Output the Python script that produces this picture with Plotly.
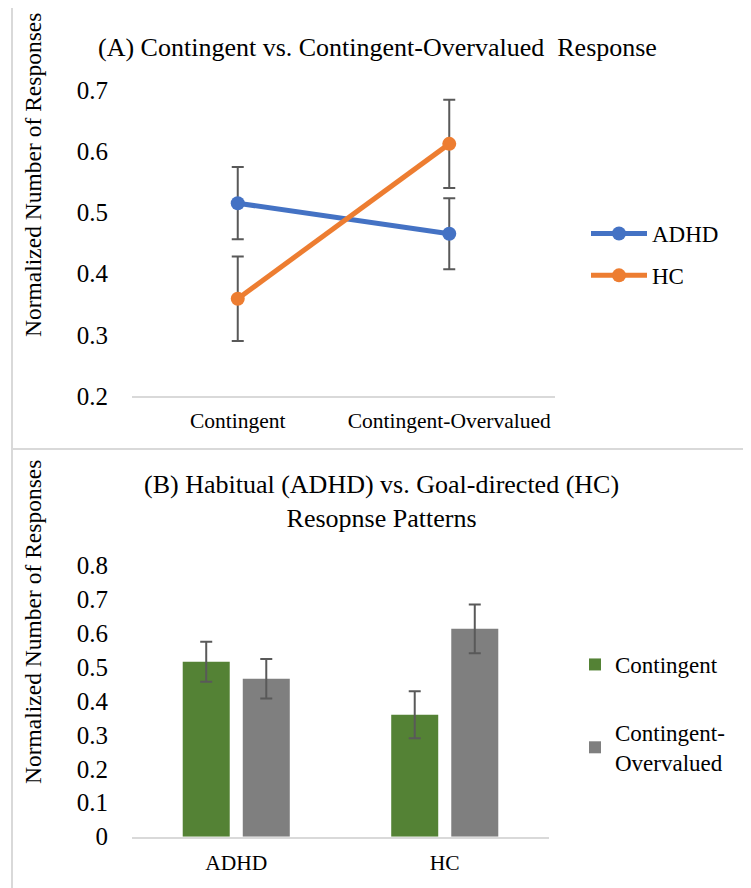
import plotly.graph_objects as go

# ---- data ----
conditions = ["Contingent", "Contingent-Overvalued"]
groups = ["ADHD", "HC"]
adhd_means = [0.515, 0.465]
adhd_err = [0.059, 0.058]
hc_means = [0.359, 0.612]
hc_err = [0.069, 0.072]
contingent_means = [adhd_means[0], hc_means[0]]
contingent_err = [adhd_err[0], hc_err[0]]
overvalued_means = [adhd_means[1], hc_means[1]]
overvalued_err = [adhd_err[1], hc_err[1]]

W, H = 751, 888
OFF = 8  # page body margin
FONT = "Liberation Serif, Times New Roman, serif"
BLUE, ORANGE, GREEN, GRAY = "#4472C4", "#ED7D31", "#548235", "#7F7F7F"
ERRC = "#595959"

def px(x):
    return (x - OFF) / W

def py(y):
    return 1 - (y - OFF) / H

fig = go.Figure()

err_style = dict(type="data", visible=True, color=ERRC, thickness=2, width=6)

fig.add_trace(go.Scatter(
    x=conditions, y=adhd_means, name="ADHD", mode="lines+markers",
    line=dict(color=BLUE, width=5), marker=dict(color=BLUE, size=14),
    error_y=dict(array=adhd_err, **err_style),
    xaxis="x", yaxis="y", legend="legend", legendgroup="a1"))
fig.add_trace(go.Scatter(
    x=conditions, y=hc_means, name="HC", mode="lines+markers",
    line=dict(color=ORANGE, width=5), marker=dict(color=ORANGE, size=14),
    error_y=dict(array=hc_err, **err_style),
    xaxis="x", yaxis="y", legend="legend", legendgroup="a2"))

fig.add_trace(go.Bar(
    x=groups, y=contingent_means, name="Contingent", marker=dict(color=GREEN, line=dict(width=0)),
    error_y=dict(array=contingent_err, **err_style),
    xaxis="x2", yaxis="y2", legend="legend2", legendgroup="b1"))
fig.add_trace(go.Bar(
    x=groups, y=overvalued_means, name="Contingent-<br>Overvalued", marker=dict(color=GRAY, line=dict(width=0)),
    error_y=dict(array=overvalued_err, **err_style),
    xaxis="x2", yaxis="y2", legend="legend2", legendgroup="b2"))

axis_common = dict(showgrid=False, zeroline=False, fixedrange=True, automargin=False)

fig.update_layout(
    template="none",
    width=W, height=H,
    margin=dict(l=0, r=0, t=0, b=0, pad=0, autoexpand=False),
    paper_bgcolor="white", plot_bgcolor="white",
    font=dict(family=FONT, color="#000000"),
    bargap=0.424, bargroupgap=0.217,
    xaxis=dict(domain=[px(132), px(555)], anchor="y", range=[-0.5, 1.5], showline=True,
               linecolor="#D9D9D9", linewidth=2, ticks="outside", ticklen=4,
               tickcolor="rgba(0,0,0,0)", tickfont=dict(size=21.5, family=FONT),
               **axis_common),
    yaxis=dict(domain=[py(396), py(90)], anchor="x", range=[0.2, 0.7], dtick=0.1,
               tick0=0.2, showline=False, ticks="outside", ticklen=18,
               tickcolor="rgba(0,0,0,0)", tickfont=dict(size=25, family=FONT),
               **axis_common),
    xaxis2=dict(domain=[px(132), px(549)], anchor="y2", range=[-0.5, 1.5], showline=True,
                linecolor="#D9D9D9", linewidth=2, ticks="outside", ticklen=5,
                tickcolor="rgba(0,0,0,0)", tickfont=dict(size=21.5, family=FONT),
                **axis_common),
    yaxis2=dict(domain=[py(836.7), py(565)], anchor="x2", range=[0, 0.8], dtick=0.1,
                tick0=0, showline=False, ticks="outside", ticklen=18,
                tickcolor="rgba(0,0,0,0)", tickfont=dict(size=25, family=FONT),
                **axis_common),
    legend=dict(x=px(586), y=py(212), xanchor="left", yanchor="top",
                font=dict(size=23, family=FONT), bgcolor="rgba(0,0,0,0)",
                traceorder="grouped", tracegroupgap=9, itemwidth=56),
    legend2=dict(x=px(575), y=py(643), xanchor="left", yanchor="top",
                 font=dict(size=23, family=FONT), bgcolor="rgba(0,0,0,0)",
                 traceorder="grouped", tracegroupgap=35),
    shapes=[
        dict(type="rect", xref="paper", yref="paper", x0=px(12), x1=px(747),
             y0=py(449), y1=py(7), line=dict(color="#D9D9D9", width=2)),
        dict(type="rect", xref="paper", yref="paper", x0=px(12), x1=px(747),
             y0=py(900), y1=py(449), line=dict(color="#D9D9D9", width=2)),
    ],
    annotations=[
        dict(text="(A) Contingent vs. Contingent-Overvalued  Response",
             x=px(377), y=py(47), xref="paper", yref="paper", showarrow=False,
             xanchor="center", yanchor="middle", font=dict(size=26, family=FONT)),
        dict(text="(B) Habitual (ADHD) vs. Goal-directed (HC)<br>Resopnse Patterns",
             x=px(381), y=py(501), xref="paper", yref="paper", showarrow=False,
             xanchor="center", yanchor="middle", font=dict(size=26, family=FONT)),
        dict(text="Normalized Number of Responses", textangle=-90,
             x=px(33), y=py(175), xref="paper", yref="paper", showarrow=False,
             xanchor="center", yanchor="middle", font=dict(size=23.5, family=FONT)),
        dict(text="Normalized Number of Responses", textangle=-90,
             x=px(33), y=py(622), xref="paper", yref="paper", showarrow=False,
             xanchor="center", yanchor="middle", font=dict(size=23.5, family=FONT)),
    ],
)

fig.write_html("out.html")
